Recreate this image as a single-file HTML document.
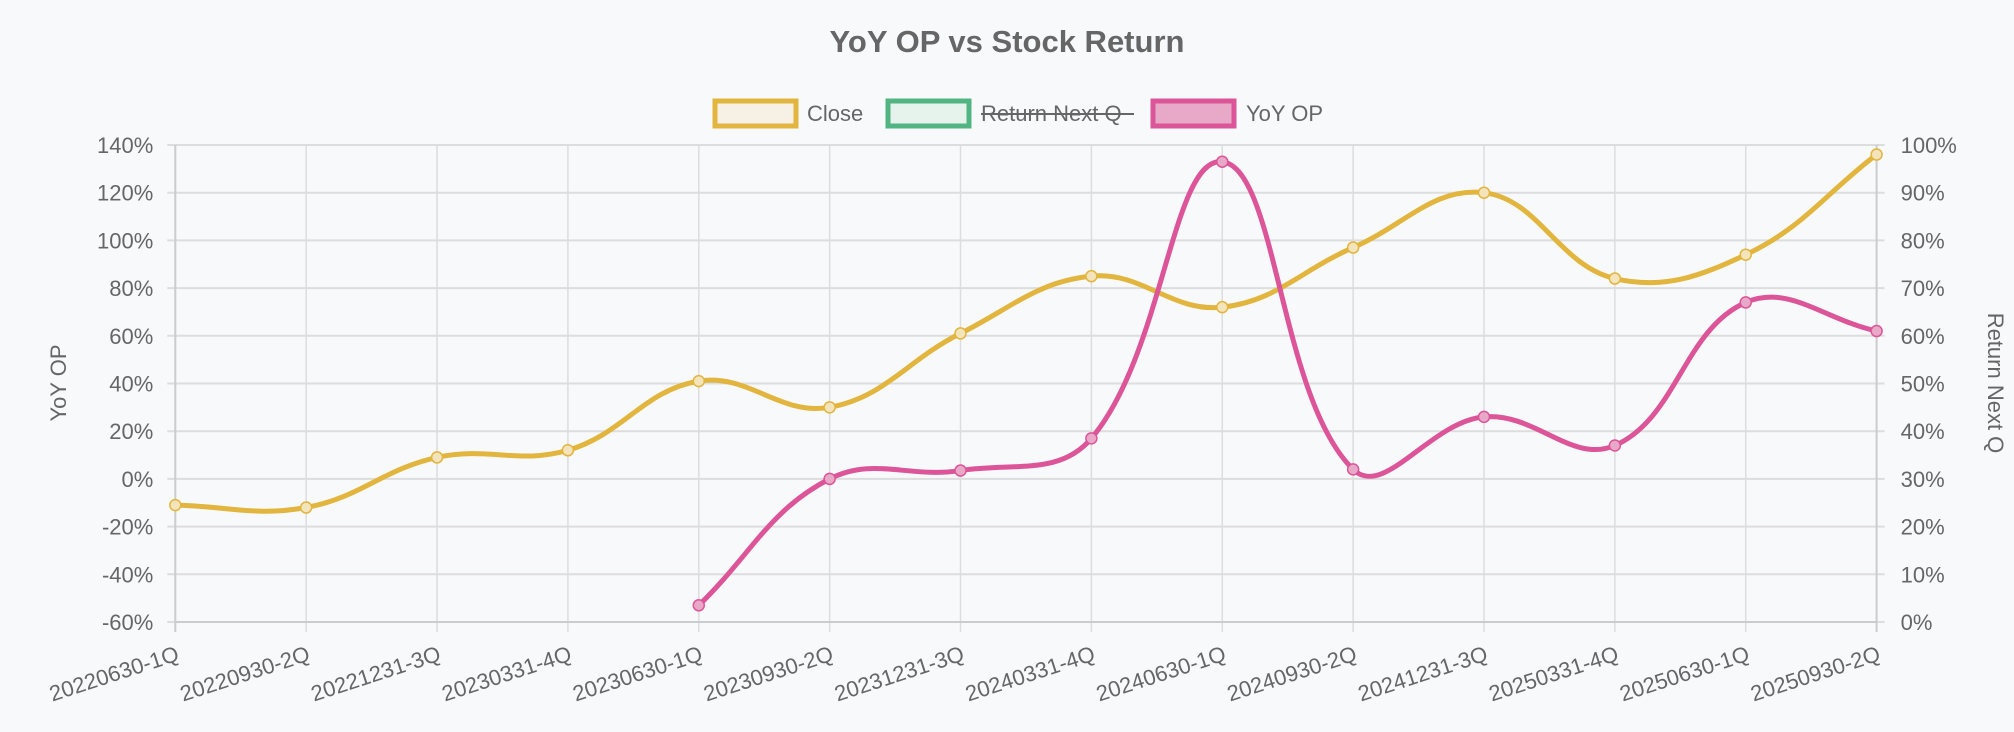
<!DOCTYPE html>
<html><head><meta charset="utf-8"><style>
html,body{margin:0;padding:0;background:#f8f9fb;}
svg{display:block;font-family:"Liberation Sans",Arial,sans-serif;}
</style></head><body>
<svg id="chart" width="2014" height="732" viewBox="0 0 2014 732" xmlns="http://www.w3.org/2000/svg">
<rect width="2014" height="732" fill="#f8f9fb"/>
<text x="1007" y="52" text-anchor="middle" font-size="31" font-weight="bold" fill="#666">YoY OP vs Stock Return</text>
<rect x="715" y="101" width="81" height="25" fill="#f6f1e4" stroke="#e2b53e" stroke-width="5"/>
<text x="807" y="121" font-size="22" fill="#666">Close</text>
<rect x="888" y="101" width="81" height="25" fill="#e6f2ec" stroke="#52b482" stroke-width="5"/>
<text x="981" y="121" font-size="22" fill="#666">Return Next Q</text>
<line x1="981" y1="114" x2="1134" y2="114" stroke="#666" stroke-width="2"/>
<rect x="1153" y="101" width="81" height="25" fill="#e8a9c9" stroke="#dc5599" stroke-width="5"/>
<text x="1246" y="121" font-size="22" fill="#666">YoY OP</text>
<g id="grid"></g>
<g id="series"></g>
</svg>
<script>
var G=document.getElementById('grid'),NS="http://www.w3.org/2000/svg";
function el(t,a,p,txt){var e=document.createElementNS(NS,t);for(var k in a)e.setAttribute(k,a[k]);if(txt!=null)e.textContent=txt;(p||G).appendChild(e);return e;}
var L=175.3,R=1876.6,T=145,B=622,n=14,dx=(R-L)/13;
var labs=["20220630-1Q","20220930-2Q","20221231-3Q","20230331-4Q","20230630-1Q","20230930-2Q","20231231-3Q","20240331-4Q","20240630-1Q","20240930-2Q","20241231-3Q","20250331-4Q","20250630-1Q","20250930-2Q"];
for(var i=0;i<=10;i++){var y=T+i*(B-T)/10;
 el('line',{x1:L-8,x2:R+8,y1:y,y2:y,stroke:'#ddd','stroke-width':2});
 el('text',{x:L-22,y:y+8,'text-anchor':'end','font-size':22,fill:'#666'},null,(140-20*i)+'%');
 el('text',{x:R+24,y:y+8,'font-size':22,fill:'#666'},null,(100-10*i)+'%');}
for(var i=0;i<n;i++){var x=L+i*dx;
 el('line',{x1:x,x2:x,y1:T,y2:B+10,stroke:(i==0||i==13)?'#ccc':'#ddd','stroke-width':(i==0||i==13)?2:1.5});
 el('text',{x:x+5,y:B+38,'text-anchor':'end','font-size':22,fill:'#666',transform:'rotate(-18 '+(x+5)+' '+(B+38)+')'},null,labs[i]);}
el('line',{x1:L,x2:R,y1:B,y2:B,stroke:'#ccc','stroke-width':2});
el('text',{x:66,y:383,'text-anchor':'middle','font-size':22,fill:'#666',transform:'rotate(-90 66 383)'},null,'YoY OP');
el('text',{x:1988,y:383,'text-anchor':'middle','font-size':22,fill:'#666',transform:'rotate(90 1988 383)'},null,'Return Next Q');
var close=[24.5,24,34.5,36,50.5,45,60.5,72.5,66,78.5,90,72,77,98].map(function(v,i){return [L+i*dx,B-4.77*v];});
var op=[[4,-53],[5,0],[6,3.5],[7,17],[8,133],[9,4],[10,26],[11,14],[12,74],[13,62]].map(function(p){return [L+p[0]*dx,T+(140-p[1])*2.385];});
function path(pts){var t=0.4,cps=[];
 for(var i=0;i<pts.length;i++){var p=pts[i-1]||pts[i],c=pts[i],q=pts[i+1]||pts[i];
  var d01=Math.hypot(c[0]-p[0],c[1]-p[1]),d12=Math.hypot(q[0]-c[0],q[1]-c[1]);
  var fa=d01+d12?t*d01/(d01+d12):0,fb=d01+d12?t*d12/(d01+d12):0;
  cps.push([[c[0]-fa*(q[0]-p[0]),Math.min(B,Math.max(T,c[1]-fa*(q[1]-p[1])))],[c[0]+fb*(q[0]-p[0]),Math.min(B,Math.max(T,c[1]+fb*(q[1]-p[1])))]]);}
 var d='M'+pts[0][0]+' '+pts[0][1];
 for(var i=1;i<pts.length;i++)d+=' C'+cps[i-1][1][0]+' '+cps[i-1][1][1]+' '+cps[i][0][0]+' '+cps[i][0][1]+' '+pts[i][0]+' '+pts[i][1];
 return d;}
var S=document.getElementById('series');
function draw(pts,col,fill){el('path',{d:path(pts),fill:'none',stroke:col,'stroke-width':5},S);
 pts.forEach(function(p){el('circle',{cx:p[0],cy:p[1],r:5.5,fill:fill,stroke:col,'stroke-width':1.5},S);});}
draw(close,'#e2b53e','#f3e4bb');
draw(op,'#dc5599','#e8a9c9');
</script>
</body></html>
